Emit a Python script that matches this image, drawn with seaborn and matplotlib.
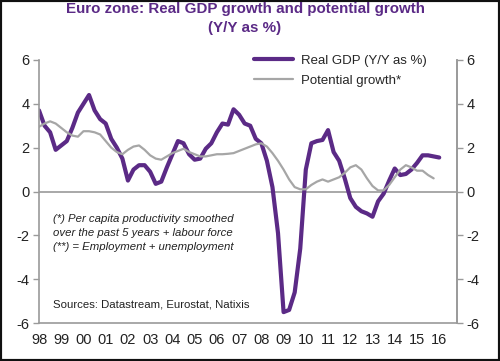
import numpy as np
import pandas as pd
import matplotlib
matplotlib.use("Agg")
import matplotlib.pyplot as plt
from matplotlib.patches import Rectangle
import seaborn as sns

# quarterly values, first quarter of 1998 onwards
gdp = [3.7, 3.0, 2.7, 1.9, 2.1, 2.3, 2.9, 3.6, 4.0, 4.4, 3.7, 3.3,
       3.1, 2.4, 2.0, 1.5, 0.5, 1.0, 1.2, 1.2, 0.9, 0.35, 0.45, 1.1,
       1.7, 2.3, 2.2, 1.7, 1.45, 1.5, 1.95, 2.2, 2.7, 3.1, 3.05, 3.75,
       3.5, 3.1, 3.0, 2.4, 2.2, 1.4, 0.2, -1.9, -5.5, -5.4, -4.6, -2.6,
       1.0, 2.2, 2.3, 2.35, 2.8, 1.8, 1.4, 0.6, -0.3, -0.7, -0.9, -1.0,
       -1.15, -0.45, -0.1, 0.5, 1.05, 0.75, 0.8, 1.0, 1.3, 1.65, 1.65, 1.6,
       1.55]
potential = [2.95, 3.1, 3.2, 3.1, 2.9, 2.7, 2.55, 2.5, 2.75, 2.75, 2.7, 2.6,
             2.3, 2.0, 1.8, 1.7, 1.9, 2.05, 2.1, 1.9, 1.65, 1.5, 1.45, 1.6,
             1.75, 1.85, 1.95, 1.8, 1.7, 1.6, 1.6, 1.65, 1.7, 1.7, 1.72, 1.75,
             1.85, 1.95, 2.05, 2.15, 2.2, 2.05, 1.75, 1.4, 1.0, 0.55, 0.2, 0.1,
             0.1, 0.3, 0.45, 0.55, 0.45, 0.55, 0.65, 0.85, 1.1, 1.2, 1.0, 0.6,
             0.25, 0.05, 0.05, 0.3, 0.65, 1.0, 1.2, 1.1, 0.95, 0.95, 0.75, 0.6]
years = list(range(1998, 2017))
year_labels = ["98", "99", "00", "01", "02", "03", "04", "05", "06", "07",
               "08", "09", "10", "11", "12", "13", "14", "15", "16"]
y_ticks = [-6, -4, -2, 0, 2, 4, 6]

purple = "#5B2A86"
grey = "#A6A6A6"
axis_grey = "#9A9A9A"

df_gdp = pd.DataFrame({"t": 1998 + np.arange(len(gdp)) / 4, "v": gdp})
df_pot = pd.DataFrame({"t": 1998 + np.arange(len(potential)) / 4, "v": potential})

sns.set_style("white")
plt.rcParams["font.family"] = ["Liberation Sans", "DejaVu Sans"]
plt.rcParams["axes.unicode_minus"] = False

fig = plt.figure(figsize=(5, 3.61), dpi=100)
ax = fig.add_axes([0.078, 0.105, 0.836, 0.729])

sns.lineplot(data=df_gdp, x="t", y="v", ax=ax, color=purple, lw=3,
             label="Real GDP (Y/Y as %)")
sns.lineplot(data=df_pot, x="t", y="v", ax=ax, color=grey, lw=1.6,
             label="Potential growth*")
ax.axhline(0, color=axis_grey, lw=1.2, zorder=0)

ax.set_xlim(1998, 2016.8)
ax.set_ylim(-6, 6)
ax.set_xticks(years)
ax.set_xticklabels(year_labels)
ax.set_yticks(y_ticks)
ax.set_xlabel("")
ax.set_ylabel("")
ax.tick_params(axis="both", direction="out", length=4, width=1, color=axis_grey,
               labelsize=10.5, labelcolor="#222222", pad=3)
ax.spines["top"].set_visible(False)
for s in ["left", "right", "bottom"]:
    ax.spines[s].set_color(axis_grey)
    ax.spines[s].set_linewidth(1.2)

ax2 = ax.twinx()
ax2.set_ylim(-6, 6)
ax2.set_yticks(y_ticks)
ax2.tick_params(axis="y", direction="out", length=4, width=1, color=axis_grey,
                labelsize=10.5, labelcolor="#222222", pad=3)
for s in ["top", "left", "bottom"]:
    ax2.spines[s].set_visible(False)
ax2.spines["right"].set_color(axis_grey)
ax2.spines["right"].set_linewidth(1.2)

leg = ax.legend(loc="upper left", bbox_to_anchor=(0.487, 1.065), frameon=False,
                fontsize=9.5, handlelength=2.9, handletextpad=0.6, labelspacing=0.6)

note = ("(*) Per capita productivity smoothed\n"
        "over the past 5 years + labour force\n"
        "(**) = Employment + unemployment")
ax.text(0.033, 0.415, note, transform=ax.transAxes, fontsize=8.2, style="italic",
        va="top", ha="left", color="#222222", linespacing=1.5)
ax.text(0.033, 0.05, "Sources: Datastream, Eurostat, Natixis", transform=ax.transAxes,
        fontsize=8.2, va="bottom", ha="left", color="#222222")

fig.text(0.49, 0.995, "Euro zone: Real GDP growth and potential growth\n(Y/Y as %)",
         ha="center", va="top", fontsize=10.9, fontweight="bold", color="#5B2A86",
         linespacing=1.45)

fig.patches.append(Rectangle((0, 0), 1, 1, transform=fig.transFigure, fill=False,
                             edgecolor="#111111", lw=3))

fig.savefig("out.png", dpi=100)
